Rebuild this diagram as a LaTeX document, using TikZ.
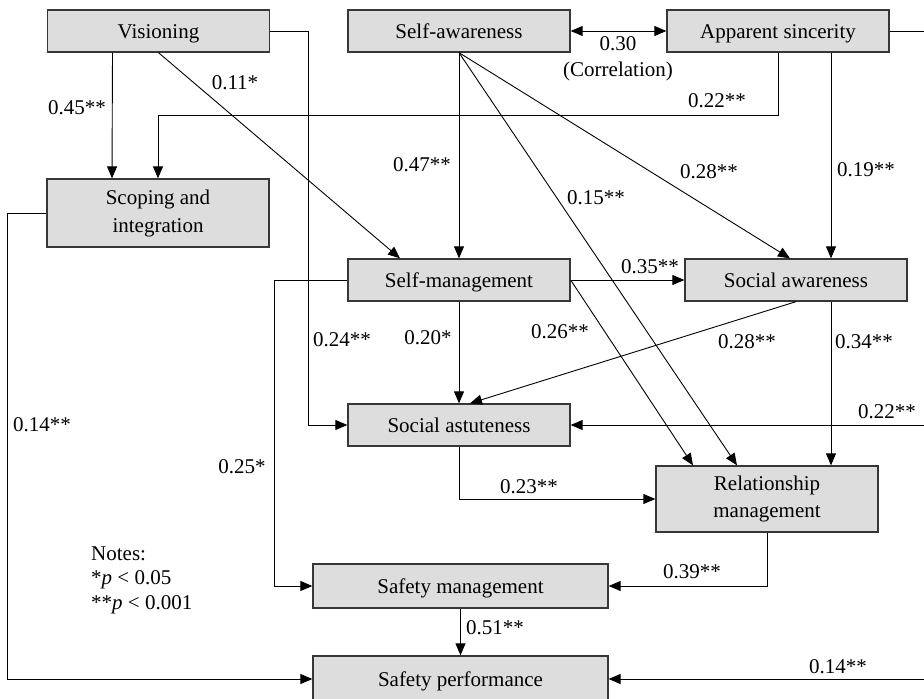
\documentclass[tikz,border=0pt]{standalone}
\usepackage{fontspec}
\setmainfont{Liberation Serif}
\usetikzlibrary{arrows.meta}

\definecolor{caixacinza}{RGB}{221,221,221}
\definecolor{linhacinza}{RGB}{55,55,55}

\begin{document}
\begin{tikzpicture}[x=1pt, y=-1pt,
  caixa/.style={rectangle, draw=linhacinza, line width=1.3pt, fill=caixacinza,
    minimum width=222pt, minimum height=42pt, align=center, inner sep=0pt,
    text height=14pt, text depth=0pt, font=\fontsize{21}{27}\selectfont},
  caixadupla/.style={caixa, text height={}, text depth={}},
  seta/.style={-{Triangle[length=12pt,width=10pt]}, line width=0.9pt},
  rotulo/.style={inner sep=0pt, font=\fontsize{21}{24.5}\selectfont}]
  \useasboundingbox (0,0) rectangle (924,699);

  % Caixas
  \node[caixa] (vis) at (158.5,31) {Visioning};
  \node[caixa] (saw) at (459,31) {Self-awareness};
  \node[caixa] (aps) at (778,31) {Apparent sincerity};
  \node[caixadupla, minimum height=68pt, font=\fontsize{21}{28}\selectfont] (scp) at (158,213) {Scoping and\\integration};
  \node[caixa] (smg) at (459,280) {Self-management};
  \node[caixa] (soa) at (796,280) {Social awareness};
  \node[caixa] (sas) at (459,425) {Social astuteness};
  \node[caixadupla, minimum height=66pt] (rlm) at (767,499) {Relationship\\management};
  \node[caixa, minimum width=295pt, minimum height=44pt] (sfm) at (460.5,586) {Safety management};
  \node[caixa, minimum width=295pt, minimum height=46pt] (sfp) at (460.5,679) {Safety performance};
  \coordinate (dir) at (934,31);

  % Setas
  \draw[seta] ([xshift=-46pt]vis.south) -- ([xshift=-46pt]scp.north);
  \draw[seta] (vis.south) -- ([xshift=-59pt]smg.north);
  \draw[seta] (vis.east) -- ++(38,0) |- (sas.west);
  \draw[seta] (aps.south) -- ++(0,63) -| (scp.north);
  \draw[seta] ([xshift=53pt]aps.south) -- ([xshift=35pt]soa.north);
  \draw[{Triangle[length=12pt,width=10pt]}-{Triangle[length=12pt,width=10pt]}, line width=0.9pt] (saw.east) -- (aps.west);
  \draw[seta] (saw.south) -- (smg.north);
  \draw[seta] (saw.south) -- ([xshift=-30pt]rlm.north);
  \draw[seta] (saw.south) -- ([xshift=-6pt]soa.north);
  \draw[seta] (smg.east) -- (soa.west);
  \draw[seta] (smg.east) -- ([xshift=-74pt]rlm.north);
  \draw[seta] (smg.south) -- (sas.north);
  \draw[seta] (smg.west) -- ++(-73,0) |- (sfm.west);
  \draw[seta] (soa.south) -- ([xshift=11pt]sas.north);
  \draw[seta] ([xshift=35pt]soa.south) -- ([xshift=64pt]rlm.north);
  \draw[seta] (sas.south) |- (rlm.west);
  \draw[seta] (rlm.south) |- (sfm.east);
  \draw[seta] (sfm.south) -- (sfp.north);
  \draw[seta] (scp.west) -- ++(-39,0) |- (sfp.west);
  \draw[line width=0.9pt] (aps.east) -- (dir) -- (dir |- sfp.east);
  \draw[seta] (dir |- sas.east) -- (sas.east);
  \draw[seta] (dir |- sfp.east) -- (sfp.east);

  % Coeficientes
  \node[rotulo] (r1) at (77,108) {0.45**};
  \node[rotulo] (r2) at (235,83) {0.11*};
  \node[rotulo] (r3) at (422,165) {0.47**};
  \node[rotulo] (r4) at (618,44) {0.30};
  \node[rotulo] (r5) at (618,71) {(Correlation)};
  \node[rotulo] (r6) at (717,101) {0.22**};
  \node[rotulo] (r7) at (709,172) {0.28**};
  \node[rotulo] (r8) at (596,198) {0.15**};
  \node[rotulo] (r9) at (866,170) {0.19**};
  \node[rotulo] (r10) at (342,340) {0.24**};
  \node[rotulo] (r11) at (428,338) {0.20*};
  \node[rotulo] (r12) at (42,425) {0.14**};
  \node[rotulo] (r13) at (242,467) {0.25*};
  \node[rotulo] (r14) at (650,267) {0.35**};
  \node[rotulo] (r15) at (560,332) {0.26**};
  \node[rotulo] (r16) at (747,342) {0.28**};
  \node[rotulo] (r17) at (864,342) {0.34**};
  \node[rotulo] (r18) at (887,412) {0.22**};
  \node[rotulo] (r19) at (529,487) {0.23**};
  \node[rotulo] (r20) at (692,572) {0.39**};
  \node[rotulo] (r21) at (495,628) {0.51**};
  \node[rotulo] (r22) at (838,667) {0.14**};

  % Notas
  \node[rotulo, anchor=west, align=left] (notas) at (91,580) {Notes:\\*\textit{p} < 0.05\\**\textit{p} < 0.001};
\end{tikzpicture}
\end{document}
